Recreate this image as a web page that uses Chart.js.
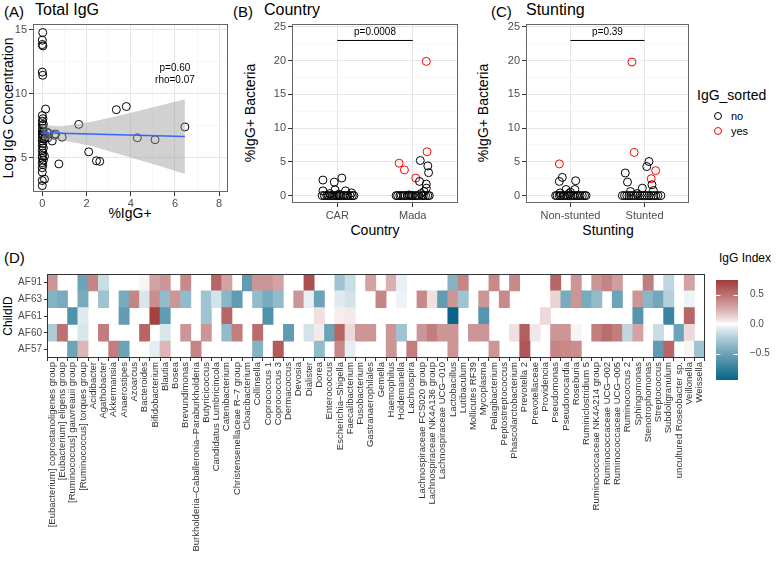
<!DOCTYPE html>
<html>
<head>
<meta charset="utf-8">
<script src="https://cdn.jsdelivr.net/npm/chart.js@4.4.1/dist/chart.umd.min.js"></script>
<style>
  body { margin: 0; width: 778px; height: 562px; position: relative; background: #fff; overflow: hidden;
         font-family: "Liberation Sans", Arial, sans-serif; color: #000; }
  canvas { position: absolute; }
  .t { position: absolute; white-space: nowrap; line-height: 1; }
  .c { position: absolute; white-space: nowrap; line-height: 1; transform: translate(-50%, -50%); }
  .r { position: absolute; white-space: nowrap; line-height: 1; transform: translate(-50%, -50%) rotate(-90deg); }
  .dot { position: absolute; width: 8px; height: 8px; border-radius: 50%; border: 1px solid #000; box-sizing: border-box; }
</style>
</head>
<body>

<!-- panel titles -->
<div class="t" style="left:4px;top:4px;font-size:15px">(A)</div>
<div class="t" style="left:35px;top:2px;font-size:16px">Total IgG</div>
<div class="t" style="left:233px;top:4px;font-size:15px">(B)</div>
<div class="t" style="left:264px;top:2px;font-size:16px">Country</div>
<div class="t" style="left:491px;top:4px;font-size:15px">(C)</div>
<div class="t" style="left:526px;top:2px;font-size:16px">Stunting</div>
<div class="t" style="left:4px;top:250px;font-size:15px">(D)</div>

<!-- axis titles -->
<div class="r" style="left:8px;top:108px;font-size:14px">Log IgG Concentration</div>
<div class="c" style="left:130px;top:213px;font-size:14px">%IgG+</div>
<div class="r" style="left:250px;top:113px;font-size:14px">%IgG+ Bacteria</div>
<div class="c" style="left:375px;top:230px;font-size:14px">Country</div>
<div class="r" style="left:483px;top:113px;font-size:14px">%IgG+ Bacteria</div>
<div class="c" style="left:608px;top:230px;font-size:14px">Stunting</div>
<div class="r" style="left:8px;top:316px;font-size:12px">ChildID</div>

<!-- legends -->
<div class="t" style="left:697px;top:88px;font-size:14px">IgG_sorted</div>
<div class="dot" style="left:714px;top:112px"></div>
<div class="t" style="left:731px;top:111px;font-size:11px">no</div>
<div class="dot" style="left:714px;top:127px;border-color:#f00"></div>
<div class="t" style="left:731px;top:126px;font-size:11px">yes</div>
<div class="t" style="left:719px;top:252px;font-size:12px">IgG Index</div>

<canvas id="panelA" width="236" height="195" style="left:0px;top:15px"></canvas>
<canvas id="panelB" width="213" height="210" style="left:250px;top:15px"></canvas>
<canvas id="panelC" width="214" height="210" style="left:480px;top:15px"></canvas>
<canvas id="heat" width="712" height="296" style="left:0px;top:266px"></canvas>
<canvas id="bar" width="62" height="120" style="left:716px;top:270px"></canvas>

<script>
// ---------- (A) Total IgG ----------
const totalX = [0.02, 0, 0, 0.03, 0, 0.02, 0.15, 0, 0.03, 0, 0.05, 0, 0.02, 0, 0.05, 0, 0.03, 0, 0.08, 0,
                0.02, 0, 0.05, 0, 0.03, 0, 0.1, 0, 0.05, 0, 0.02, 0, 0, 0.1, 0, 0,
                0.2, 0.3, 0.12, 0.25, 0.45, 0.6, 0.55, 0.75, 0.9, 1.65, 2.1, 2.45, 2.6, 3.35, 3.8, 4.3, 5.1, 6.45];
const totalY = [14.8, 14.2, 13.85, 13.75, 11.7, 11.45, 8.8, 8.3, 8.05, 7.85, 7.6, 7.55, 7.3, 7.1, 7.0, 6.85, 6.7, 6.55, 6.45, 6.3,
                6.1, 5.9, 5.75, 5.55, 5.35, 5.15, 5.1, 4.95, 4.8, 4.6, 4.45, 4.2, 3.85, 3.3, 3.2, 2.8,
                7.0, 6.9, 6.6, 6.55, 6.3, 6.85, 6.75, 4.5, 6.6, 7.6, 5.45, 4.75, 4.7, 8.75, 9.0, 6.55, 6.4, 7.4];
const fitX = [0, 6.45];
const fitY = [6.95, 6.65];
const bandX = [0, 0.5, 1, 2, 3, 4, 5, 6.45];
const bandLo = [6.33, 6.38, 6.32, 5.98, 5.52, 5.01, 4.5, 3.73];
const bandHi = [7.57, 7.48, 7.48, 7.74, 8.1, 8.51, 8.94, 9.57];
const statsA = ["p=0.60", "rho=0.07"];

// ---------- (B) Country ----------
const countryCats = ["CAR", "Mada"];
const countryNoX = [0.81, 0.96, 1.06, 0.81, 0.97, 1.11, 1.19, 0.9, 1.02,
                    0.8, 0.83, 0.86, 0.88, 0.91, 0.93, 0.95, 0.98, 1.0, 1.02, 1.04, 1.07, 1.09, 1.12, 1.14, 1.17, 1.2, 1.22,
                    2.09, 2.1, 2.2, 2.21, 2.18, 2.18, 2.15, 2.11, 1.95,
                    1.78, 1.8, 1.83, 1.85, 1.88, 1.9, 1.93, 1.96, 1.98, 2.0, 2.03, 2.05, 2.08, 2.12, 2.14, 2.17, 2.2, 2.22];
const countryNoY = [2.3, 2.0, 2.6, 0.7, 0.85, 0.7, 0.4, 0.3, 0.2,
                    0, 0, 0, 0, 0, 0, 0, 0, 0, 0, 0, 0, 0, 0, 0, 0, 0, 0,
                    2.1, 5.2, 4.4, 3.4, 1.7, 1.1, 0.6, 0.3, 0.1,
                    0, 0, 0, 0, 0, 0, 0, 0, 0, 0, 0, 0, 0, 0, 0, 0, 0, 0];
const countryYesX = [1.82, 1.89, 2.04, 2.18, 2.19];
const countryYesY = [4.8, 3.8, 2.6, 19.9, 6.5];
const countryP = "p=0.0008";

// ---------- (C) Stunting ----------
const stuntCats = ["Non-stunted", "Stunted"];
const stuntNoX = [0.85, 0.89, 1.07, 0.94, 1.06, 1.0, 0.86, 0.98,
                  0.8, 0.82, 0.85, 0.87, 0.9, 0.92, 0.95, 0.97, 1.0, 1.03, 1.05, 1.08, 1.1, 1.13, 1.16, 1.19, 1.21,
                  2.06, 2.03, 1.74, 1.77, 1.97, 2.1, 2.12, 1.81, 1.9,
                  1.7, 1.73, 1.76, 1.79, 1.82, 1.85, 1.88, 1.91, 1.94, 1.97, 2.0, 2.03, 2.06, 2.09, 2.12, 2.15, 2.18, 2.22];
const stuntNoY = [2.1, 2.7, 2.2, 0.9, 0.9, 0.5, 0.4, 0.3,
                  0, 0, 0, 0, 0, 0, 0, 0, 0, 0, 0, 0, 0, 0, 0, 0, 0,
                  5.05, 4.3, 3.35, 2.0, 1.1, 1.6, 0.75, 0.6, 0.3,
                  0, 0, 0, 0, 0, 0, 0, 0, 0, 0, 0, 0, 0, 0, 0, 0, 0, 0];
const stuntYesX = [0.85, 1.83, 1.86, 2.15, 2.09];
const stuntYesY = [4.7, 19.8, 6.4, 3.7, 2.5];
const stuntP = "p=0.39";

// ---------- (D) heatmap ----------
const genera = ["[Eubacterium] coprostanoligenes group", "[Eubacterium] eligens group", "[Ruminococcus] gauvreauii group",
  "[Ruminococcus] torques group", "Acidibacter", "Agathobacter", "Akkermansia", "Anaerostipes", "Azoarcus", "Bacteroides",
  "Bifidobacterium", "Blautia", "Bosea", "Brevundimonas", "Burkholderia\u2013Caballeronia\u2013Paraburkholderia", "Butyricicoccus",
  "Candidatus Lumbricincola", "Catenibacterium", "Christensenellaceae R\u20137 group", "Cloacibacterium", "Collinsella",
  "Coprococcus 1", "Coprococcus 3", "Dermacoccus", "Devosia", "Dialister", "Dorea", "Enterococcus", "Escherichia\u2013Shigella",
  "Faecalibacterium", "Fusobacterium", "Gastranaerophilales", "Gemella", "Haemophilus", "Holdemanella", "Lachnospira",
  "Lachnospiraceae FCS020 group", "Lachnospiraceae NK4A136 group", "Lachnospiraceae UCG\u2013010", "Lactobacillus", "Lutibaculum",
  "Mollicutes RF39", "Mycoplasma", "Pelagibacterium", "Peptostreptococcus", "Phascolarctobacterium", "Prevotella 2",
  "Prevotellaceae", "Providencia", "Pseudomonas", "Pseudonocardia", "Roseburia", "Ruminiclostridium 5",
  "Ruminococcaceae NK4A214 group", "Ruminococcaceae UCG\u2013002", "Ruminococcaceae UCG\u2013005", "Ruminococcus 2",
  "Sphingomonas", "Stenotrophomonas", "Streptococcus", "Subdoligranulum", "uncultured Roseobacter sp.", "Veillonella", "Weissella"];
const childIds = ["AF57", "AF60", "AF61", "AF63", "AF91"];   // bottom to top
const af91 = [0.35, null, null, -0.5, 0.42, -0.15, null, null, null, 0.02,
              0.3, 0.35, null, 0.4, null, null, 0.55, 0.3, null, -0.55,
              0.35, 0.35, 0.3, null, null, 0.65, null, null, -0.3, -0.15,
              null, 0.3, null, 0.25, -0.05, null, null, null, null, -0.4,
              0.42, null, null, 0.4, null, 0.4, null, null, null, 0.55,
              null, 0.35, null, 0.35, 0.42, 0.32, null, null, 0.45, null,
              -0.18, null, 0.3, null];
const af63 = [-0.4, -0.45, null, -0.45, null, -0.3, null, -0.45, 0.42, -0.1,
              0.38, -0.35, 0.35, -0.35, null, -0.3, -0.12, -0.38, -0.55, null,
              -0.35, -0.45, -0.35, null, 0.35, -0.05, -0.5, null, -0.08, -0.12,
              null, null, 0.42, null, -0.04, null, 0.4, 0.08, -0.55, 0.35,
              -0.3, null, 0.35, null, 0.4, null, null, null, null, 0.12,
              -0.45, 0.35, -0.45, -0.35, null, -0.5, null, 0.35, -0.38, -0.48,
              -0.22, null, -0.04, null];
const af61 = [null, null, -0.62, -0.08, null, null, null, -0.55, null, null,
              0.72, -0.55, null, null, null, -0.3, null, 0.55, null, null,
              null, -0.62, null, null, null, null, 0.08, null, 0.04, 0.05,
              null, null, null, null, null, null, null, null, null, -0.95,
              null, null, -0.6, null, null, null, null, null, 0.1, null,
              null, null, null, null, null, null, null, -0.6, null, null,
              -0.72, null, 0.55, null];
const af60 = [-0.25, 0.5, null, -0.1, null, 0.45, null, null, null, 0.55,
              null, -0.1, null, 0.35, null, 0.35, null, -0.35, 0.45, null,
              0.52, null, null, -0.55, null, -0.12, 0.05, -0.5, 0.55, 0.1,
              0.35, 0.35, null, 0.35, -0.3, null, 0.35, 0.45, 0.35, 0.35,
              null, 0.35, 0.35, null, null, 0.08, 0.58, 0.06, null, 0.35,
              0.35, 0.02, null, 0.45, 0.52, 0.45, -0.18, 0.3, null, -0.15,
              null, -0.5, 0.1, null];
const af57 = [null, null, -0.5, 0.22, null, null, 0.45, -0.5, null, null,
              -0.06, 0.22, null, null, 0.42, null, null, null, null, null,
              -0.4, null, 0.6, null, null, null, -0.35, null, 0.4, -0.06,
              null, null, null, 0.35, null, 0.45, null, null, null, 0.35,
              null, null, null, 0.35, null, null, 0.62, null, null, 0.42,
              0.4, 0.38, null, null, null, null, null, null, null, -0.55,
              0.55, null, 0.02, -0.3];
const heatRows = [af57, af60, af61, af63, af91];
const indexMin = -0.95, indexMax = 0.75;
const indexTicks = [-0.5, 0, 0.5];

// ---------- helpers ----------
const FONT = '"Liberation Sans", Arial, sans-serif';
const TICK_COL = '#4d4d4d';
const HIGH = [162, 58, 58], LOW = [8, 100, 136];

function heatColor(v) {
  let t = v >= 0 ? v / indexMax : v / indexMin;
  t = Math.pow(Math.min(t, 1), 0.82);
  const c = v >= 0 ? HIGH : LOW;
  const m = c.map(k => Math.round(255 + t * (k - 255)));
  return `rgb(${m[0]},${m[1]},${m[2]})`;
}

function pts(xs, ys) { return xs.map((x, i) => ({ x: x, y: ys[i] })); }

const boxPlugin = {
  id: 'box',
  afterDraw(chart, args, opts) {
    if (!opts.show) return;
    const a = chart.chartArea, c = chart.ctx;
    c.save();
    c.strokeStyle = opts.color || '#666';
    c.lineWidth = 1;
    c.strokeRect(Math.round(a.left) + 0.5, Math.round(a.top) + 0.5,
                 Math.round(a.right - a.left) - 1, Math.round(a.bottom - a.top) - 1);
    c.restore();
  }
};

const notesPlugin = {
  id: 'notes',
  afterDatasetsDraw(chart, args, opts) {
    const items = opts.items || [];
    const c = chart.ctx;
    c.save();
    items.forEach(it => {
      c.font = (it.size || 10) + 'px ' + FONT;
      c.fillStyle = '#000';
      c.textAlign = 'center';
      c.textBaseline = 'middle';
      c.fillText(it.text, chart.scales.x.getPixelForValue(it.x), chart.scales.y.getPixelForValue(it.y));
    });
    c.restore();
  }
};

Chart.register(boxPlugin, notesPlugin);
Chart.defaults.font.family = FONT;
Chart.defaults.animation = false;
Chart.defaults.responsive = false;
Chart.defaults.plugins.legend.display = false;
Chart.defaults.plugins.tooltip.enabled = false;

function gridOpts(isMajor) {
  return {
    color: ctx => isMajor(ctx.tick.value) ? '#e6e6e6' : '#f2f2f2',
    lineWidth: ctx => isMajor(ctx.tick.value) ? 1 : 0.6,
    tickColor: ctx => isMajor(ctx.tick.value) ? '#333' : 'rgba(0,0,0,0)',
    tickLength: 4,
    drawTicks: true
  };
}

function circles(data, color) {
  return {
    data: data, pointStyle: 'circle', pointRadius: 4, borderWidth: 1,
    borderColor: color, backgroundColor: 'rgba(0,0,0,0)', order: 3
  };
}

// ---------- panel A ----------
const aXTicks = [0, 1, 2, 3, 4, 5, 6, 7, 8];
const aYTicks = [2.5, 5, 7.5, 10, 12.5, 15];
new Chart(document.getElementById('panelA'), {
  type: 'scatter',
  data: {
    datasets: [
      { data: pts(fitX, fitY), showLine: true, borderColor: '#3366ff', borderWidth: 1.6, pointRadius: 0, order: 0 },
      { data: pts(bandX, bandHi), showLine: true, borderWidth: 0, pointRadius: 0, tension: 0.4,
        fill: '+1', backgroundColor: 'rgba(153,153,153,0.45)', order: 1 },
      { data: pts(bandX, bandLo), showLine: true, borderWidth: 0, pointRadius: 0, tension: 0.4, order: 2 },
      circles(pts(totalX, totalY), '#000')
    ]
  },
  options: {
    layout: { padding: { top: 7, right: 8, left: 0, bottom: 0 } },
    scales: {
      x: {
        min: -0.42, max: 8.4,
        afterBuildTicks: s => { s.ticks = aXTicks.map(v => ({ value: v })); },
        afterFit: s => { s.height = 18; },
        ticks: { callback: v => (v % 2 === 0 ? v : ''), color: TICK_COL, font: { size: 11 }, padding: 1, maxRotation: 0 },
        grid: gridOpts(v => v % 2 === 0), border: { display: false }
      },
      y: {
        min: 2.3, max: 15.5,
        afterBuildTicks: s => { s.ticks = aYTicks.map(v => ({ value: v })); },
        afterFit: s => { s.width = 33; },
        ticks: { callback: v => (v % 5 === 0 ? v : ''), color: TICK_COL, font: { size: 11 }, padding: 2 },
        grid: gridOpts(v => v % 5 === 0), border: { display: false }
      }
    },
    plugins: {
      box: { show: true },
      notes: { items: [{ x: 6.0, y: 12.0, text: statsA[0], size: 10 }, { x: 6.0, y: 11.05, text: statsA[1], size: 10 }] }
    }
  }
});

// ---------- panels B and C ----------
const pctTicks = [0, 2.5, 5, 7.5, 10, 12.5, 15, 17.5, 20, 22.5, 25];
function groupPanel(id, cats, noX, noY, yesX, yesY, pText, yWidth) {
  new Chart(document.getElementById(id), {
    type: 'scatter',
    data: {
      datasets: [
        { data: [{ x: 1, y: 23 }, { x: 2, y: 23 }], showLine: true, borderColor: '#000', borderWidth: 1, pointRadius: 0, order: 0 },
        circles(pts(noX, noY), '#000'),
        circles(pts(yesX, yesY), '#ff0000')
      ]
    },
    options: {
      layout: { padding: { top: 7, right: 4, left: 0, bottom: 0 } },
      scales: {
        x: {
          min: 0.4, max: 2.6,
          afterBuildTicks: s => { s.ticks = [{ value: 1 }, { value: 2 }]; },
          afterFit: s => { s.height = 22; },
          ticks: { callback: v => cats[v - 1], color: TICK_COL, font: { size: 11 }, padding: 2, maxRotation: 0 },
          grid: gridOpts(() => true), border: { display: false }
        },
        y: {
          min: -1.1, max: 25.5,
          afterBuildTicks: s => { s.ticks = pctTicks.map(v => ({ value: v })); },
          afterFit: s => { s.width = yWidth; },
          ticks: { callback: v => (v % 5 === 0 ? v : ''), color: TICK_COL, font: { size: 11 }, padding: 2 },
          grid: gridOpts(v => v % 5 === 0), border: { display: false }
        }
      },
      plugins: {
        box: { show: true },
        notes: { items: [{ x: 1.5, y: 24.2, text: pText, size: 10 }] }
      }
    }
  });
}
groupPanel('panelB', countryCats, countryNoX, countryNoY, countryYesX, countryYesY, countryP, 42);
groupPanel('panelC', stuntCats, stuntNoX, stuntNoY, stuntYesX, stuntYesY, stuntP, 46);

// ---------- panel D heatmap ----------
const heatSets = heatRows.map((row, r) => ({
  data: row.map(v => (v === null ? null : [r - 0.5, r + 0.5])),
  backgroundColor: row.map(v => (v === null ? 'rgba(0,0,0,0)' : heatColor(v))),
  borderWidth: 0,
  barPercentage: 1,
  categoryPercentage: 1,
  grouped: false
}));

new Chart(document.getElementById('heat'), {
  type: 'bar',
  data: { labels: genera, datasets: heatSets },
  options: {
    layout: { padding: { top: 7, right: 4, left: 0, bottom: 0 } },
    scales: {
      x: {
        type: 'category', offset: true,
        afterFit: s => { s.height = 204; },
        ticks: { autoSkip: false, maxRotation: 90, minRotation: 90, color: '#333', font: { size: 9.5 }, padding: 1 },
        grid: { drawOnChartArea: false, drawTicks: true, tickLength: 3, color: '#333' },
        border: { display: false }
      },
      y: {
        min: -0.5, max: 4.5,
        afterBuildTicks: s => { s.ticks = childIds.map((n, i) => ({ value: i })); },
        afterFit: s => { s.width = 47; },
        ticks: { callback: v => childIds[v], color: TICK_COL, font: { size: 10 }, padding: 2 },
        grid: { drawOnChartArea: false, drawTicks: true, tickLength: 3, color: '#333' },
        border: { display: false }
      }
    },
    plugins: { box: { show: true, color: '#333' } }
  }
});

// ---------- colour bar ----------
const barPlugin = {
  id: 'colourbar',
  beforeDatasetsDraw(chart) {
    const a = chart.chartArea, c = chart.ctx, y = chart.scales.y;
    const g = c.createLinearGradient(0, a.top, 0, a.bottom);
    const steps = 24;
    for (let i = 0; i <= steps; i++) {
      const v = indexMax - (indexMax - indexMin) * i / steps;
      g.addColorStop((y.getPixelForValue(v) - a.top) / (a.bottom - a.top), heatColor(v));
    }
    const z = (y.getPixelForValue(0) - a.top) / (a.bottom - a.top);
    g.addColorStop(z, '#ffffff');
    c.save();
    c.fillStyle = g;
    c.fillRect(a.left, a.top, a.right - a.left, a.bottom - a.top);
    c.strokeStyle = '#fff';
    c.lineWidth = 1;
    const w = (a.right - a.left) / 5;
    indexTicks.forEach(v => {
      const p = Math.round(y.getPixelForValue(v)) + 0.5;
      c.beginPath();
      c.moveTo(a.left, p); c.lineTo(a.left + w, p);
      c.moveTo(a.right - w, p); c.lineTo(a.right, p);
      c.stroke();
    });
    c.restore();
  }
};

new Chart(document.getElementById('bar'), {
  type: 'bar',
  data: { labels: [''], datasets: [{ data: [] }] },
  plugins: [barPlugin],
  options: {
    layout: { padding: { top: 5, right: 0, left: 0, bottom: 7 } },
    scales: {
      x: { display: false },
      y: {
        position: 'right', min: indexMin, max: indexMax,
        afterBuildTicks: s => { s.ticks = indexTicks.map(v => ({ value: v })); },
        afterFit: s => { s.width = 40; },
        ticks: { callback: v => (v < 0 ? '\u2212' + Math.abs(v).toFixed(1) : v.toFixed(1)), color: TICK_COL, font: { size: 10 }, padding: 4 },
        grid: { display: false }, border: { display: false }
      }
    },
    plugins: { box: { show: false } }
  }
});
</script>
</body>
</html>
